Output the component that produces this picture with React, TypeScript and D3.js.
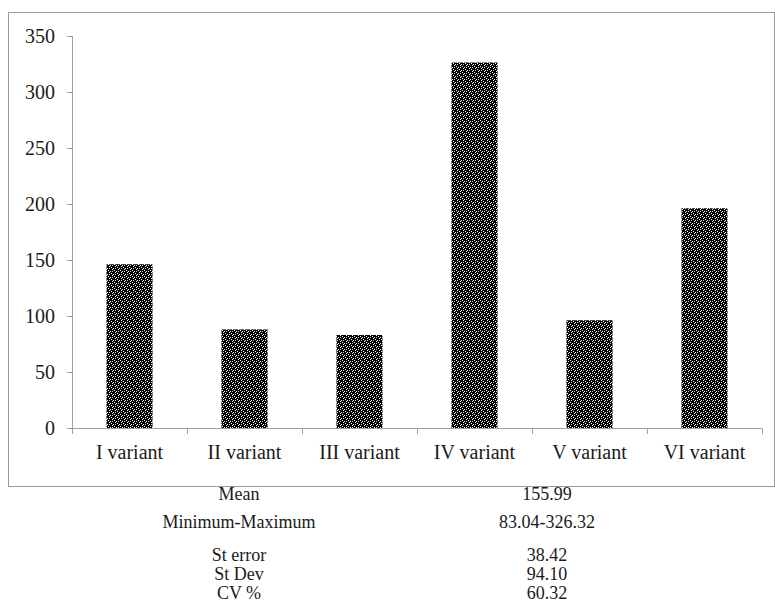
import React from "react";
import * as d3 from "d3";

const categories = ["I variant", "II variant", "III variant", "IV variant", "V variant", "VI variant"];
const values = [146.2, 88.0, 83.04, 326.32, 96.2, 196.2];
const yTicks = [0, 50, 100, 150, 200, 250, 300, 350];
const statLabels = ["Mean", "Minimum-Maximum", "St error", "St Dev", "CV %"];
const statValues = ["155.99", "83.04-326.32", "38.42", "94.10", "60.32"];
const statY = [494, 522, 555, 574, 593];

const FAMILY = '"Liberation Serif", "Times New Roman", Tinos, serif';

export default function App() {
  const W = 775, H = 611;
  const x = d3.scaleBand().domain(categories).range([72, 762]).paddingInner(0.6).paddingOuter(0.3);
  const y = d3.scaleLinear().domain([0, 350]).range([428, 36]);
  const band = d3.scaleBand().domain(categories).range([72, 762]);
  const axisColor = "#a0a0a0";
  const ts = { fontFamily: FAMILY, fontSize: 20 };
  return (
    <div style={{ position: "absolute", left: 0, top: 0, fontFamily: FAMILY }}>
      <svg width={W} height={H} fontFamily={FAMILY}>
        <defs>
          <pattern id="pat" width="6" height="6" patternUnits="userSpaceOnUse">
            <rect width="6" height="6" fill="#000" />
            <rect x="0" y="0" width="1" height="1" fill="#fff" />
            <rect x="2" y="1" width="1" height="1" fill="#fff" />
            <rect x="1" y="2" width="1" height="1" fill="#fff" />
            <rect x="3" y="3" width="1" height="1" fill="#fff" />
            <rect x="5" y="4" width="1" height="1" fill="#fff" />
            <rect x="4" y="5" width="1" height="1" fill="#fff" />
            <rect x="4" y="1" width="1" height="1" fill="#ccc" />
            <rect x="1" y="4" width="1" height="1" fill="#ccc" />
          </pattern>
        </defs>
        <rect x={8.5} y={12.5} width={766} height={474} fill="#fff" stroke="#999" strokeWidth={1} />
        <line x1={72.5} x2={72.5} y1={y(350)} y2={y(0)} stroke={axisColor} />
        {yTicks.map((t) => (
          <g key={t}>
            <line x1={67} x2={72.5} y1={Math.round(y(t)) + 0.5} y2={Math.round(y(t)) + 0.5} stroke={axisColor} />
            <text x={55} y={y(t) + 7} textAnchor="end" style={ts} fill="#1a1a1a">{String(t)}</text>
          </g>
        ))}
        {categories.map((c, i) => (
          <rect key={c} x={x(c)} y={y(values[i])} width={x.bandwidth()} height={y(0) - y(values[i])} fill="url(#pat)" />
        ))}
        <line x1={72} x2={762} y1={428.5} y2={428.5} stroke={axisColor} />
        {[...categories.map((c) => band(c) as number), 762].map((p, i) => (
          <line key={i} x1={Math.round(p) + 0.5} x2={Math.round(p) + 0.5} y1={428.5} y2={434} stroke={axisColor} />
        ))}
        {categories.map((c) => (
          <text key={c} x={(band(c) as number) + band.bandwidth() / 2} y={459} textAnchor="middle" style={ts} fill="#1a1a1a">{c}</text>
        ))}
        {statLabels.map((s, i) => (
          <g key={s}>
            <text x={239} y={statY[i] + 6} textAnchor="middle" style={{ ...ts, fontSize: 18 }} fill="#1a1a1a">{s}</text>
            <text x={547} y={statY[i] + 6} textAnchor="middle" style={{ ...ts, fontSize: 18 }} fill="#1a1a1a">{statValues[i]}</text>
          </g>
        ))}
      </svg>
    </div>
  );
}
